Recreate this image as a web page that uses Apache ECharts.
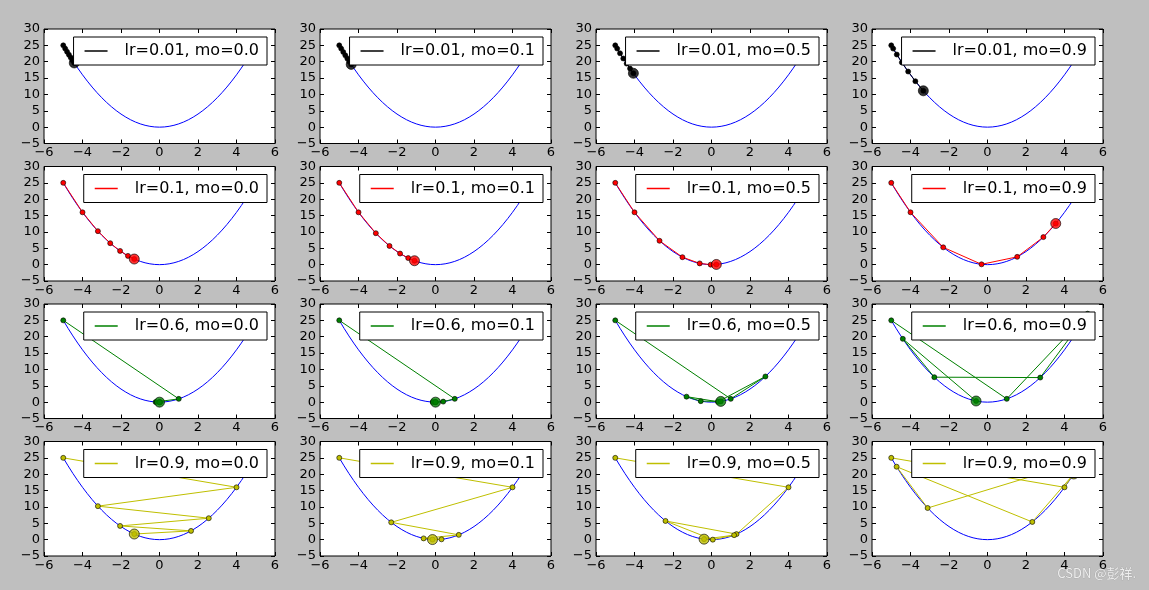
<!DOCTYPE html>
<html>
<head>
<meta charset="utf-8">
<script src="https://cdn.jsdelivr.net/npm/echarts@6/dist/echarts.min.js"></script>
<style>
html,body{margin:0;padding:0;background:#bfbfbf;}
#chart{width:1149px;height:590px;}
</style>
</head>
<body>
<div id="chart"></div>
<script>
// ---- data ----
const lrLabels = ['0.01', '0.1', '0.6', '0.9'];
const moLabels = ['0.0', '0.1', '0.5', '0.9'];
const rowColors = ['#000000', '#ff0000', '#008000', '#bfbf00'];

const xTicks = [-6, -4, -2, 0, 2, 4, 6];
const yTicks = [-5, 0, 5, 10, 15, 20, 25, 30];

// f(x) = x^2 curve points
const curveX = [-5,-4.75,-4.5,-4.25,-4,-3.75,-3.5,-3.25,-3,-2.75,-2.5,-2.25,-2,-1.75,-1.5,-1.25,-1,-0.75,-0.5,-0.25,0,
                0.25,0.5,0.75,1,1.25,1.5,1.75,2,2.25,2.5,2.75,3,3.25,3.5,3.75,4,4.25,4.5,4.75,5];
const curveY = [25,22.5625,20.25,18.0625,16,14.0625,12.25,10.5625,9,7.5625,6.25,5.0625,4,3.0625,2.25,1.5625,1,0.5625,0.25,0.0625,0,
                0.0625,0.25,0.5625,1,1.5625,2.25,3.0625,4,5.0625,6.25,7.5625,9,10.5625,12.25,14.0625,16,18.0625,20.25,22.5625,25];

// trajectories, row = learning rate, column = momentum
const trajX_lr001 = [
  [-5, -4.9, -4.802, -4.706, -4.612, -4.520, -4.429],
  [-5, -4.9, -4.792, -4.685, -4.581, -4.479, -4.379],
  [-5, -4.9, -4.752, -4.583, -4.407, -4.231, -4.058],
  [-5, -4.9, -4.712, -4.449, -4.122, -3.747, -3.333]
];
const trajY_lr001 = [
  [25, 24.01, 23.06, 22.15, 21.27, 20.43, 19.62],
  [25, 24.01, 22.96, 21.95, 20.99, 20.06, 19.18],
  [25, 24.01, 22.58, 21.00, 19.42, 17.90, 16.47],
  [25, 24.01, 22.20, 19.79, 17.00, 14.04, 11.11]
];
const trajX_lr01 = [
  [-5, -4, -3.2, -2.56, -2.048, -1.638, -1.311],
  [-5, -4, -3.1, -2.39, -1.841, -1.418, -1.092],
  [-5, -4, -2.7, -1.51, -0.613, -0.042, 0.252],
  [-5, -4, -2.3, -0.31, 1.543, 2.902, 3.545]
];
const trajY_lr01 = [
  [25, 16, 10.24, 6.55, 4.19, 2.68, 1.72],
  [25, 16, 9.61, 5.71, 3.39, 2.01, 1.19],
  [25, 16, 7.29, 2.28, 0.38, 0.00, 0.06],
  [25, 16, 5.29, 0.10, 2.38, 8.42, 12.57]
];
const trajX_lr06 = [
  [-5, 1, -0.2, 0.04, -0.008, 0.002, 0.000],
  [-5, 1, 0.4, -0.14, -0.026, 0.017, 0.001],
  [-5, 1, 2.8, 0.34, -1.298, -0.559, 0.481],
  [-5, 1, 5.2, 2.74, -2.762, -4.399, -0.594]
];
const trajY_lr06 = [
  [25, 1, 0.04, 0.00, 0.00, 0.00, 0.00],
  [25, 1, 0.16, 0.02, 0.00, 0.00, 0.00],
  [25, 1, 7.84, 0.12, 1.68, 0.31, 0.23],
  [25, 1, 27.04, 7.51, 7.63, 19.35, 0.35]
];
const trajX_lr09 = [
  [-5, 4, -3.2, 2.56, -2.048, 1.638, -1.311],
  [-5, 4, -2.3, 1.21, -0.617, 0.311, -0.156],
  [-5, 4, 1.3, -2.39, 0.067, 1.175, -0.386],
  [-5, 4, 4.9, -3.11, -4.721, 2.327, 4.482]
];
const trajY_lr09 = [
  [25, 16, 10.24, 6.55, 4.19, 2.68, 1.72],
  [25, 16, 5.29, 1.46, 0.38, 0.10, 0.02],
  [25, 16, 1.69, 5.71, 0.00, 1.38, 0.15],
  [25, 16, 24.01, 9.67, 22.29, 5.41, 20.08]
];
const allX = [trajX_lr001, trajX_lr01, trajX_lr06, trajX_lr09];
const allY = [trajY_lr001, trajY_lr01, trajY_lr06, trajY_lr09];

// ---- layout ----
const W = 1149;
const gridLefts = [44, 320, 596, 872];
const gridTops = [29, 166.5, 304, 441.5];
const gridW = 231, gridH = 114.5;
const FONT = 'DejaVu Sans';

const grids = [], xAxes = [], yAxes = [], series = [], legends = [];
const curve = curveX.map((x, i) => [x, curveY[i]]);
const fmt = v => String(v).replace('-', '\u2212');

for (let r = 0; r < 4; r++) {
  for (let c = 0; c < 4; c++) {
    const g = r * 4 + c;
    const left = gridLefts[c], top = gridTops[r];
    grids.push({left: left, top: top, width: gridW, height: gridH, show: true,
      backgroundColor: '#ffffff', borderColor: '#000000', borderWidth: 1});
    const tick = {show: true, inside: true, length: 4, lineStyle: {color: '#000', width: 1}};
    const noLine = {show: false, onZero: false};
    const xBase = {type: 'value', gridIndex: g, min: xTicks[0], max: xTicks[xTicks.length - 1], interval: 2,
      splitLine: {show: false}, axisLine: noLine, axisTick: tick};
    const yBase = {type: 'value', gridIndex: g, min: yTicks[0], max: yTicks[yTicks.length - 1], interval: 5,
      splitLine: {show: false}, axisLine: noLine, axisTick: tick};
    xAxes.push(Object.assign({}, xBase, {position: 'bottom',
      axisLabel: {show: true, margin: 3, color: '#000', fontSize: 13, fontFamily: FONT, formatter: fmt}}));
    xAxes.push(Object.assign({}, xBase, {position: 'top', axisLabel: {show: false}}));
    yAxes.push(Object.assign({}, yBase, {position: 'left',
      axisLabel: {show: true, margin: 4, color: '#000', fontSize: 13, fontFamily: FONT, formatter: fmt}}));
    yAxes.push(Object.assign({}, yBase, {position: 'right', axisLabel: {show: false}}));

    const name = 'lr=' + lrLabels[r] + ', mo=' + moLabels[c];
    const col = rowColors[r];
    const xs = allX[r][c], ys = allY[r][c];
    const pts = xs.map((x, i) => [x, ys[i]]);

    series.push({type: 'line', name: '_curve' + g, xAxisIndex: 2 * g, yAxisIndex: 2 * g,
      data: curve, showSymbol: false, symbol: 'none', silent: true, z: 2,
      lineStyle: {color: '#0000ff', width: 1}, itemStyle: {color: '#0000ff'}});
    series.push({type: 'line', name: name, xAxisIndex: 2 * g, yAxisIndex: 2 * g,
      data: pts, symbol: 'circle', symbolSize: 5, showSymbol: true, silent: true, z: 3,
      lineStyle: {color: col, width: 1},
      itemStyle: {color: col, borderColor: '#000', borderWidth: 0.6}});
    series.push({type: 'scatter', name: '_last' + g, xAxisIndex: 2 * g, yAxisIndex: 2 * g,
      data: [pts[pts.length - 1]], symbol: 'circle', symbolSize: 10, silent: true, z: 4,
      itemStyle: {color: col, borderColor: '#000', borderWidth: 0.8}});

    legends.push({data: [name], right: W - (left + gridW) + 8, top: top + 8, z: 20,
      orient: 'horizontal', icon: 'rect', itemWidth: 23, itemHeight: 1.5,
      backgroundColor: '#ffffff', borderColor: '#000000', borderWidth: 1, borderRadius: 0,
      padding: [4, 8, 4, 11], selectedMode: false,
      itemStyle: {borderWidth: 0, color: col},
      textStyle: {fontFamily: FONT, fontSize: 16, color: '#000', padding: [0, 0, 0, 12], lineHeight: 20}});
  }
}

const chart = echarts.init(document.getElementById('chart'), null, {renderer: 'canvas'});
chart.setOption({
  backgroundColor: '#bfbfbf',
  animation: false,
  grid: grids,
  xAxis: xAxes,
  yAxis: yAxes,
  legend: legends,
  series: series,
  graphic: [{type: 'text', left: 1057, top: 566, silent: true,
    style: {text: 'CSDN @彭祥.', fontSize: 13, fontFamily: 'Noto Sans CJK SC', fill: '#eeeeee',
      stroke: '#a0a0a0', lineWidth: 0.6}}]
});
</script>
</body>
</html>
